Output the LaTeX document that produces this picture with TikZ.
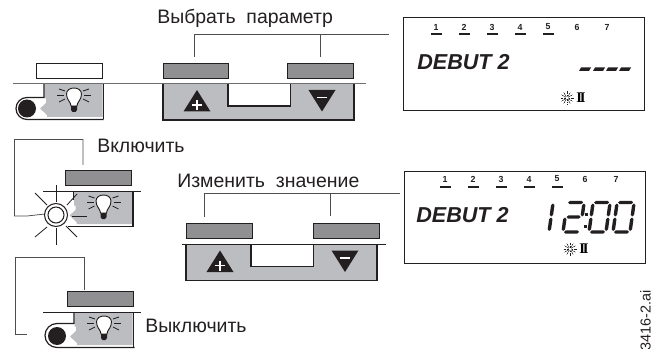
\documentclass[tikz,border=0pt]{standalone}
\usepackage{fontspec}
\setmainfont{Liberation Sans}
\newfontfamily\serifbf{Liberation Serif}
\definecolor{btn}{RGB}{144,144,146}
\definecolor{pan}{RGB}{188,189,192}
\definecolor{ink}{RGB}{35,31,32}
\definecolor{rule}{RGB}{110,110,112}
\tikzset{
 lab/.style={font=\fontsize{14.6}{16}\selectfont,text=ink,anchor=base west,inner sep=0pt},
 wire/.style={draw=ink!80,line width=0.55pt},
 btnbox/.style={draw=ink,fill=btn,line width=0.5pt},
 blank/.style={draw=ink,fill=white,line width=0.5pt},
 shelf/.style={draw=rule,line width=0.9pt},
 thinshelf/.style={draw=ink,line width=0.6pt},
 edge/.style={draw=ink,line width=0.9pt},
 bray/.style={draw=ink,line width=0.6pt},
 dayno/.style={font=\bfseries\fontsize{6.6}{7}\selectfont,text=ink,inner sep=0pt},
 debut/.style={font=\bfseries\itshape\fontsize{16.2}{17}\selectfont,text=ink,anchor=base west,inner sep=0pt},
 twoI/.style={font=\serifbf\bfseries\fontsize{11}{11}\selectfont,text=black,inner sep=0pt},
}
\newcommand{\bulb}{%
 \draw[bray,fill=white,line width=0.7pt] (-3,9) .. controls (-3,5) and (-7.5,3) .. (-7.5,-3) .. controls (-7.5,-11) and (7.5,-11) .. (7.5,-3) .. controls (7.5,3) and (3,5) .. (3,9) -- cycle;
 \fill[ink] (-3,9) -- (3,9) -- (3,13) -- (1.5,15) -- (-1.5,15) -- (-3,13) -- cycle;
 \foreach \a/\b/\c/\d in {-9/-6/-15/-8,-10/-2/-17/-2,-9/2/-15/5,9/-6/15/-8,10/-2/17/-2,9/2/15/5}
   \draw[bray] (\a,\b) -- (\c,\d);
}
\newcommand{\lamppanel}[2]{%
 \begin{scope}[shift={(#1,#2)}]
  \fill[pan] (0.5,0) -- (58.5,0) -- (58.5,33) -- (3,33) -- (3,31) -- (-4,24.5) -- (2,19) -- (2,14.5) -- (0.5,14.5) -- cycle;
  \begin{scope}[shift={(30,13)}]\bulb\end{scope}
  \draw[edge] (59.5,0) -- (59.5,35.5);
 \end{scope}}
\newcommand{\dimpanel}[2]{%
 \begin{scope}[shift={(#1,#2)}]
  \fill[pan] (0,0) rectangle (191,35.5);
  \fill[white] (65,0) rectangle (127.5,22);
  \draw[edge] (0,0) -- (0,36) -- (191,36) -- (191,0);
  \draw[edge,line width=1.1pt] (65,0) -- (65,22) -- (127.5,22) -- (127.5,0);
  \fill[ink] (34,6) -- (47.5,27.5) -- (20.5,27.5) -- cycle;
  \draw[white,line width=1.3pt] (34,16) -- (34,26) (29,21) -- (39,21);
  \fill[ink] (145.5,6) -- (172.5,6) -- (159,27.5) -- cycle;
  \draw[white,line width=1.3pt] (154,13.5) -- (164,13.5);
 \end{scope}}
\newcommand{\sunicon}[2]{%
 \begin{scope}[shift={(#1,#2)}]
  \foreach \r in {0,30,...,330}
   \draw[ink,line width=0.45pt,dash pattern=on 1.2pt off 0.6pt] (\r:1.5) -- (\r:6.5);
 \end{scope}}
\newcommand{\days}[2]{%
 \foreach \n/\x in {#1}
  \node[dayno] at (\x,#2) {\n};
}
\newcommand{\hseg}[3]{\fill[ink] (#1,#3) -- (#1+1.7,#3-1.7) -- (#2-1.7,#3-1.7) -- (#2,#3) -- (#2-1.7,#3+1.7) -- (#1+1.7,#3+1.7) -- cycle;}
\newcommand{\vseg}[3]{\fill[ink] (#1,#2) -- (#1+1.7,#2+1.7) -- (#1+1.7,#3-1.7) -- (#1,#3) -- (#1-1.7,#3-1.7) -- (#1-1.7,#2+1.7) -- cycle;}
\newcommand{\zeroglyph}[1]{%
 \begin{scope}[shift={(#1,232)},xslant=0.14]
  \hseg{1}{16}{-29.5}\hseg{1}{16}{0}
  \vseg{0}{-28.5}{-15.5}\vseg{0}{-14.5}{-1}
  \vseg{17}{-28.5}{-15.5}\vseg{17}{-14.5}{-1}
 \end{scope}}
\begin{document}
\begin{tikzpicture}[x=0.75pt,y=-0.75pt]
\useasboundingbox (0,0) rectangle (660,349);
\clip (0,0) rectangle (660,349);
% ---- top row
\node[lab] (pick) at (157,24) {Выбрать\ \ параметр};
\coordinate (pickA) at (194,57);
\coordinate (pickB) at (320,57);
\coordinate (pickC) at (389,34);
\draw[wire] (pickA) -- (194,34) -- (pickC);
\draw[wire] (pickB) -- (320,34);
\draw[blank] (36.5,63) rectangle (102.5,78);
\draw[btnbox] (163,63) rectangle (228.5,78);
\draw[btnbox] (287.5,63) rectangle (353,78);
\dimpanel{163}{84}
\lamppanel{44}{84}
\draw[edge] (44,84) -- (44,97.5) -- (27,97.5) arc[start angle=270,end angle=90,radius=11] -- (103.5,119.5);
\fill[ink] (27,108.5) circle[radius=9];
\draw[shelf] (13,83.5) -- (366,83.5);
% ---- display 1
\draw[draw=ink,line width=0.7pt] (403.5,17.5) rectangle (644.5,110);
\days{1/436,2/464,3/492,4/520,5/548,6/577,7/607}{27}
\foreach \x in {436,464,492,520,548} \draw[ink,line width=0.8pt] (\x-5.5,34) -- (\x+5.5,34);
\node[debut] (d1) at (417,70) {DEBUT 2};
\foreach \x in {579,593,606,619}
 \fill[ink] (\x,71) -- (\x+10,71) -- (\x+12,67.5) -- (\x+2,67.5) -- cycle;
\sunicon{567}{98}
\node[twoI] at (581,98) {I\kern-1.6pt I};
% ---- switch on
\node[lab] (on) at (97,153) {Включить};
\draw[wire] (83,165) -- (83,139.5) -- (14.5,139.5) -- (14.5,216) -- (27,216) -- (45,214);
\draw[btnbox] (65,170) rectangle (131,185);
\lamppanel{73.5}{191}
\draw[edge] (133,226.5) -- (68,226.5);
\draw[thinshelf] (43,191) -- (141,191);
\draw[ink,line width=0.6pt] (73.5,191) -- (73.5,200);
\draw[ink,line width=0.8pt,fill=white] (56,215) circle[radius=11.5];
\draw[ink,line width=0.8pt] (56,215) circle[radius=8];
\foreach \a/\b/\c/\d in {56.5/185/56.5/202,56.5/228/56.5/245,35/193/47/205,67/205/77/194,35/237/47/227,66/226/77/237,72/216/87/216}
 \draw[bray] (\a,\b) -- (\c,\d);
% ---- change value
\node[lab] (chg) at (177,187) {Изменить\ \ значение};
\draw[wire] (204,217) -- (204,193) -- (400,193);
\draw[wire] (330,193) -- (330,216);
\draw[btnbox] (186,223.5) rectangle (252,238);
\draw[btnbox] (313,223.5) rectangle (379,238);
\dimpanel{186}{244.5}
\draw[thinshelf] (182,244) -- (386,244);
% ---- display 2
\draw[draw=ink,line width=0.7pt] (404,171) rectangle (645,263);
\days{1/445,2/473,3/501,4/529,5/557,6/585,7/616}{179}
\foreach \x in {445,473,501,529,557} \draw[ink,line width=0.8pt] (\x-5.5,187) -- (\x+5.5,187);
\node[debut] (d2) at (416,222) {DEBUT 2};
% 12:00
\begin{scope}[shift={(549,232)},xslant=0.14]
 \vseg{0}{-28.5}{-15.5}\vseg{0}{-14.5}{-1}
\end{scope}
\begin{scope}[shift={(563,232)},xslant=0.14]
 \hseg{1}{16}{-29.5}\vseg{17}{-28.5}{-15.5}\hseg{1.5}{15.5}{-15}\vseg{0}{-14.5}{-1}\hseg{1}{16}{0}
\end{scope}
\fill[ink] (584.5,212.5) rectangle (587.5,215.5);
\fill[ink] (583.5,224.5) rectangle (586.5,227.5);
\zeroglyph{589}
\zeroglyph{613}
\sunicon{570}{249}
\node[twoI] at (584,249) {I\kern-1.6pt I};
% ---- switch off
\node[lab] (off) at (145,332) {Выключить};
\draw[wire] (84,290) -- (84,257) -- (15,257) -- (15,334) -- (27,334);
\draw[btnbox] (67,291) rectangle (133,306);
\lamppanel{74}{312}
\draw[edge] (74,312) -- (74,323.5) -- (57,323.5) arc[start angle=270,end angle=90,radius=12] -- (134.5,347.5);
\fill[ink] (57,336) circle[radius=9];
\draw[thinshelf] (43,312) -- (141,312);
% ---- file tag
\node[font=\fontsize{10.8}{12}\selectfont,text=ink,rotate=90,anchor=east,inner sep=0pt] (tag) at (645.5,290) {3416-2.ai};
\end{tikzpicture}
\end{document}
